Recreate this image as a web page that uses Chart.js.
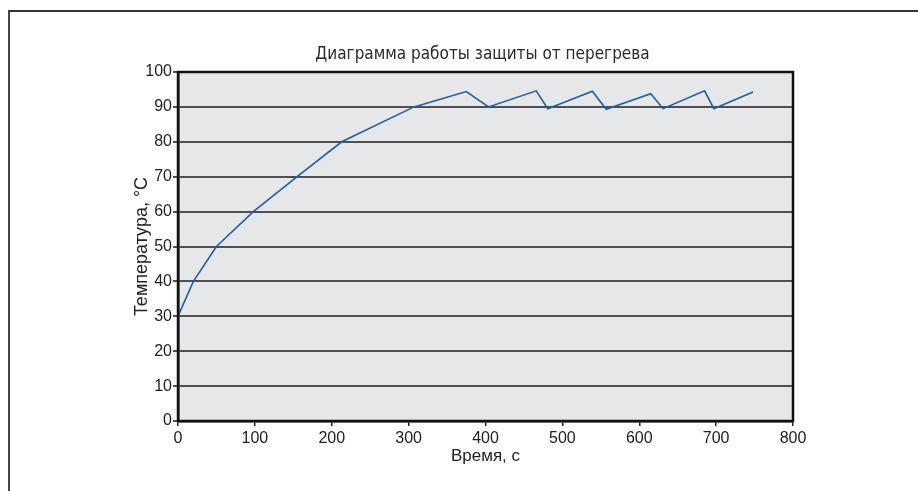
<!DOCTYPE html>
<html>
<head>
<meta charset="utf-8">
<script src="https://cdn.jsdelivr.net/npm/chart.js@4/dist/chart.umd.min.js"></script>
<style>
  html, body { margin: 0; padding: 0; background: #fff; }
  #wrap { position: relative; width: 918px; height: 491px; }
  #frame { position: absolute; left: 8px; top: 10px; right: 0; bottom: 0;
           border-top: 2px solid #333; border-left: 2px solid #444; }
  canvas { position: absolute; left: 0; top: 0; }
</style>
</head>
<body>
<div id="wrap">
  <div id="frame"></div>
  <canvas id="heatChart" width="918" height="491"></canvas>
</div>
<script>
// Диаграмма работы защиты от перегрева
const chartTitle = 'Диаграмма работы защиты от перегрева';
const xTitle = 'Время, с';
const yTitle = 'Температура, °С';

// time, s
const timeSec = [0, 20, 50, 98, 155, 213, 307, 375, 404, 466, 481, 539, 557, 615, 631, 685, 697, 748];
// temperature, °C
const tempC = [30, 40, 50, 60, 70, 80, 90, 94.4, 90, 94.6, 89.5, 94.5, 89.3, 93.8, 89.5, 94.6, 89.5, 94.3];

const xTicks = [0, 100, 200, 300, 400, 500, 600, 700, 800];
const yTicks = [0, 10, 20, 30, 40, 50, 60, 70, 80, 90, 100];

const fontFamily = '"Liberation Sans", Arial, sans-serif';
const tickFont = { family: fontFamily, size: 16 };

// plot background + frame + title over chart area
const plotDecor = {
    id: 'plotDecor',
    beforeDraw(chart) {
        const { ctx, chartArea: a } = chart;
        ctx.save();
        ctx.fillStyle = '#e6e7e9';
        ctx.fillRect(a.left, a.top, a.right - a.left, a.bottom - a.top);
        ctx.restore();
    },
    afterDraw(chart) {
        const { ctx, chartArea: a } = chart;
        ctx.save();
        ctx.strokeStyle = '#111';
        ctx.lineWidth = 2.5;
        ctx.strokeRect(a.left, a.top, a.right - a.left, a.bottom - a.top);
        ctx.fillStyle = '#2a2a2a';
        ctx.font = '17px "DejaVu Sans Condensed", "Liberation Sans Narrow", sans-serif';
        ctx.textAlign = 'center';
        ctx.textBaseline = 'alphabetic';
        ctx.fillText(chartTitle, (a.left + a.right) / 2 - 3, a.top - 13);
        ctx.restore();
    }
};

new Chart(document.getElementById('heatChart').getContext('2d'), {
    type: 'line',
    data: {
        datasets: [{
            data: timeSec.map((t, i) => ({ x: t, y: tempC[i] })),
            borderColor: '#1d5fa6',
            borderWidth: 1.6,
            pointRadius: 0,
            tension: 0,
            fill: false
        }]
    },
    options: {
        responsive: false,
        animation: false,
        layout: { padding: { left: 131, right: 125, top: 72, bottom: 24 } },
        plugins: {
            legend: { display: false },
            tooltip: { enabled: false }
        },
        scales: {
            x: {
                type: 'linear',
                min: 0, max: 800,
                afterBuildTicks: axis => { axis.ticks = xTicks.map(v => ({ value: v })); },
                ticks: { font: tickFont, color: '#222', padding: 3, maxRotation: 0 },
                grid: { drawOnChartArea: false, drawTicks: true, tickLength: 5, color: '#222', lineWidth: 1.5 },
                border: { display: true, color: '#111', width: 2.5 },
                title: { display: true, text: xTitle, font: { family: fontFamily, size: 17 }, color: '#222', padding: { top: 0, bottom: 0 } },
                afterFit: axis => { axis.height = 46; }
            },
            y: {
                type: 'linear',
                min: 0, max: 100,
                afterBuildTicks: axis => { axis.ticks = yTicks.map(v => ({ value: v })); },
                ticks: { font: tickFont, color: '#222', padding: 1 },
                grid: { color: '#505050', lineWidth: 2, tickLength: 5 },
                border: { display: true, color: '#111', width: 2.5 },
                title: { display: true, text: yTitle, font: { family: fontFamily, size: 18 }, color: '#222', padding: { top: 0, bottom: 0 } },
                afterFit: axis => { axis.width = 47; }
            }
        }
    },
    plugins: [plotDecor]
});
</script>
</body>
</html>
